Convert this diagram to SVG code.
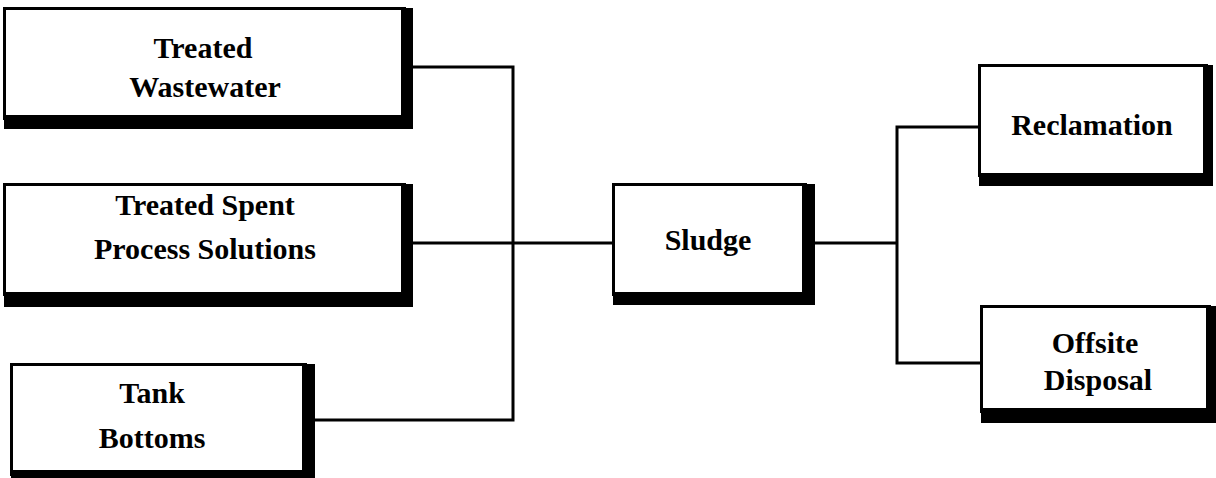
<svg xmlns="http://www.w3.org/2000/svg" width="1216" height="478" viewBox="0 0 1216 478">
<style>
.box{fill:#fff;stroke:#000;stroke-width:3}
.sh{fill:#000}
.t{font-family:"Liberation Serif","Times New Roman",serif;font-weight:bold;font-size:30px;fill:#000;text-anchor:middle}
.c{fill:none;stroke:#000;stroke-width:3}
</style>
<rect width="1216" height="478" fill="#fff"/>
<g id="connectors">
<path class="c" d="M413,67 H513 V420 H315"/>
<path class="c" d="M413,243 H612"/>
<path class="c" d="M815,243 H897"/>
<path class="c" d="M978,127 H897 V363 H980"/>
</g>
<g id="treated-wastewater">
<rect class="box" x="4.5" y="8.5" width="400" height="110"/>
<rect class="sh" x="401" y="8" width="12" height="121"/>
<rect class="sh" x="4" y="115" width="409" height="14"/>
<text class="t" x="203" y="58">Treated</text>
<text class="t" x="205" y="97">Wastewater</text>
</g>
<g id="treated-spent">
<rect class="box" x="4.5" y="184.5" width="400" height="110"/>
<rect class="sh" x="401" y="184" width="12" height="123"/>
<rect class="sh" x="4" y="292" width="409" height="15"/>
<text class="t" x="205" y="215">Treated Spent</text>
<text class="t" x="205" y="259">Process Solutions</text>
</g>
<g id="tank-bottoms">
<rect class="box" x="11.5" y="364.5" width="294" height="110"/>
<rect class="sh" x="302" y="364" width="13" height="114"/>
<rect class="sh" x="11" y="470" width="304" height="8"/>
<text class="t" x="152" y="403">Tank</text>
<text class="t" x="152" y="448">Bottoms</text>
</g>
<g id="sludge">
<rect class="box" x="613.5" y="184.5" width="192" height="110"/>
<rect class="sh" x="802" y="184" width="13" height="121"/>
<rect class="sh" x="613" y="292" width="202" height="13"/>
<text class="t" x="708" y="250">Sludge</text>
</g>
<g id="reclamation">
<rect class="box" x="979.5" y="65.5" width="227" height="110"/>
<rect class="sh" x="1203" y="65" width="10" height="121"/>
<rect class="sh" x="979" y="173" width="234" height="13"/>
<text class="t" x="1092" y="135">Reclamation</text>
</g>
<g id="offsite-disposal">
<rect class="box" x="981.5" y="306.5" width="228" height="105"/>
<rect class="sh" x="1206" y="306" width="10" height="117"/>
<rect class="sh" x="981" y="408" width="235" height="15"/>
<text class="t" x="1095" y="353">Offsite</text>
<text class="t" x="1098" y="390">Disposal</text>
</g>
</svg>
